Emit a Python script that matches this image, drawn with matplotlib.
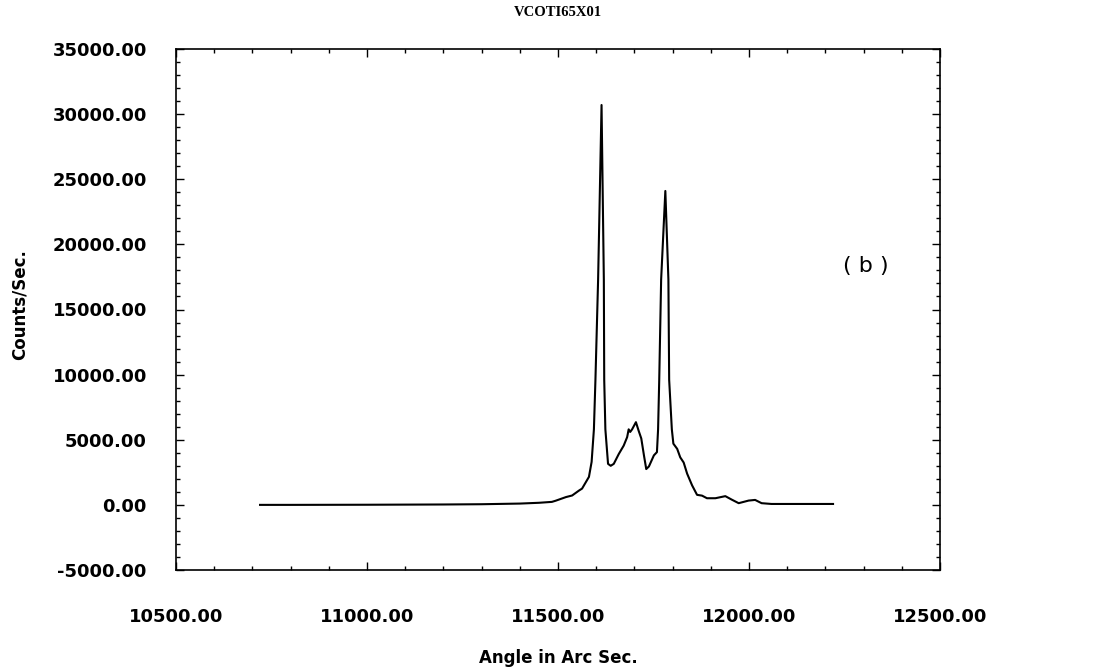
import matplotlib
matplotlib.use("Agg")
import matplotlib.pyplot as plt
from matplotlib.ticker import MultipleLocator, FormatStrFormatter

angle = [10720, 10800, 11000, 11200, 11300, 11400, 11450, 11484, 11494, 11521,
         11537, 11555, 11563, 11581, 11588, 11594, 11598, 11605, 11614, 11620,
         11621, 11624, 11631, 11638, 11646, 11659, 11672, 11681, 11685, 11689,
         11694, 11704, 11711, 11718, 11725, 11731, 11738, 11751, 11759, 11762,
         11765, 11770, 11781, 11789, 11791, 11798, 11802, 11812, 11820, 11829,
         11838, 11851, 11864, 11877, 11890, 11912, 11938, 11955, 11973, 11999,
         12016, 12033, 12059, 12129, 12220]
counts = [0, 0, 10, 30, 50, 100, 160, 230, 320, 600,
          720, 1100, 1250, 2150, 3300, 5800, 9600, 17300, 30700, 17300,
          9600, 5800, 3150, 3000, 3150, 3900, 4550, 5200, 5800, 5600,
          5800, 6350, 5700, 5100, 3800, 2750, 2950, 3800, 4050, 5800,
          9600, 17300, 24100, 17300, 9600, 5800, 4700, 4300, 3650, 3250,
          2400, 1500, 770, 710, 510, 510, 670, 400, 130, 330,
          380, 130, 70, 70, 70]

title = "VCOTI65X01"
xlabel = "Angle in Arc Sec."
ylabel = "Counts/Sec."
panel = "( b )"

W, H = 1097, 668
fig = plt.figure(figsize=(W / 100, H / 100), dpi=100)
ax = fig.add_axes([176 / W, 1 - 570 / H, (940 - 176) / W, (570 - 49) / H])

ax.plot(angle, counts, color="black", lw=1.5)

ax.set_xlim(10500, 12500)
ax.set_ylim(-5000, 35000)
ax.xaxis.set_major_locator(MultipleLocator(500))
ax.xaxis.set_minor_locator(MultipleLocator(100))
ax.yaxis.set_major_locator(MultipleLocator(5000))
ax.yaxis.set_minor_locator(MultipleLocator(1000))
ax.xaxis.set_major_formatter(FormatStrFormatter("%.2f"))
ax.yaxis.set_major_formatter(FormatStrFormatter("%.2f"))

ax.tick_params(which="both", direction="in", top=True, right=True, width=1.0)
ax.tick_params(which="major", length=6)
ax.tick_params(which="minor", length=3)
ax.tick_params(axis="y", which="major", pad=21)
ax.tick_params(axis="x", which="major", pad=27)
for lab in ax.get_xticklabels() + ax.get_yticklabels():
    lab.set_fontfamily("DejaVu Sans")
    lab.set_fontweight("bold")
    lab.set_fontsize(13)
for s in ax.spines.values():
    s.set_linewidth(1.2)

fig.text(558 / W, 1 - 12 / H, title, ha="center", va="center",
         fontfamily="Liberation Serif", fontweight="bold", fontsize=10.5)
fig.text(558 / W, 1 - 658 / H, xlabel, ha="center", va="center",
         fontfamily="DejaVu Sans", fontweight="bold", fontsize=12)
fig.text(20 / W, 1 - 305 / H, ylabel, ha="center", va="center", rotation=90,
         fontfamily="DejaVu Sans", fontweight="bold", fontsize=12)
fig.text(866 / W, 1 - 266 / H, panel, ha="center", va="center",
         fontfamily="DejaVu Sans", fontsize=16)

fig.savefig("out.png", dpi=100)
